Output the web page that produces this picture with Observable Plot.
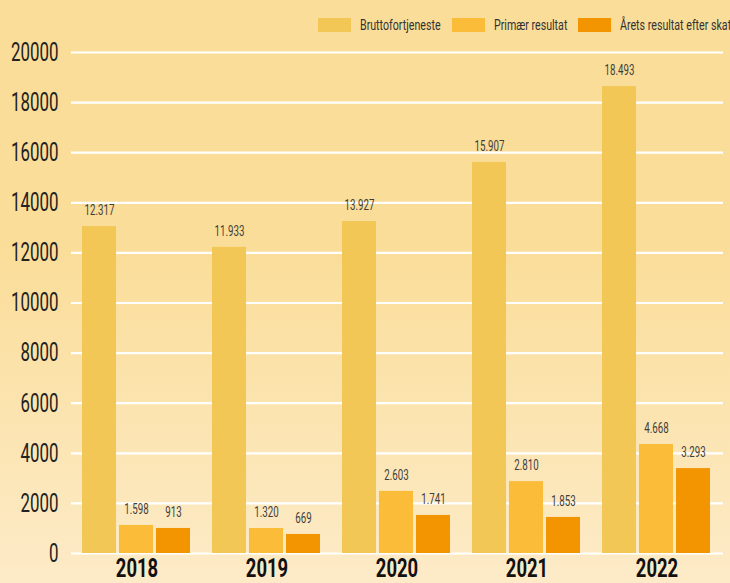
<!DOCTYPE html>
<html>
<head>
<meta charset="utf-8">
<script src="https://cdn.jsdelivr.net/npm/d3@7"></script>
<script src="https://cdn.jsdelivr.net/npm/@observablehq/plot@0.6"></script>
<style>
  html, body { margin: 0; padding: 0; }
  body { width: 730px; height: 583px; overflow: hidden;
    background: linear-gradient(to bottom, #FADD98 0%, #FADD98 42%, #FDEBC8 100%);
    font-family: Roboto, sans-serif; }
  #legend { position: relative; height: 40px; white-space: nowrap; }
  .item { position: absolute; top: 18px; height: 14px; }
  .sw { position: absolute; left: 0; top: 0; width: 33px; height: 14px; }
  .lt { position: absolute; left: 42px; top: -2px; font-size: 15px; line-height: 18px; color: #333;
        transform: scaleX(0.71); transform-origin: 0 0; }
  #chart { position: relative; width: 730px; height: 543px; }
  #chart svg { position: absolute; left: 0; top: 0; display: block; }
</style>
</head>
<body>
<div id="legend"></div>
<div id="chart"></div>
<script>
const years = ["2018", "2019", "2020", "2021", "2022"];
const series = ["Bruttofortjeneste", "Primær resultat", "Årets resultat efter skat"];
const colors = ["#F2C755", "#FBBC3A", "#F29500"];
// bar heights as drawn
const brutto = [13050, 12220, 13250, 15610, 18640];
const primaer = [1120, 1000, 2480, 2870, 4350];
const aarets = [1000, 760, 1520, 1440, 3390];
// printed value labels
const bruttoLabels = ["12.317", "11.933", "13.927", "15.907", "18.493"];
const primaerLabels = ["1.598", "1.320", "2.603", "2.810", "4.668"];
const aaretsLabels = ["913", "669", "1.741", "1.853", "3.293"];
const yTicks = [0, 2000, 4000, 6000, 8000, 10000, 12000, 14000, 16000, 18000, 20000];

const values = [brutto, primaer, aarets];
const labels = [bruttoLabels, primaerLabels, aaretsLabels];
const data = [];
years.forEach((y, i) => series.forEach((s, j) => data.push({year: y, series: s, value: values[j][i], label: labels[j][i]})));

// legend
const legendPos = [318, 452, 578];
const legend = document.getElementById("legend");
series.forEach((s, j) => {
  const it = document.createElement("div");
  it.className = "item";
  it.style.left = legendPos[j] + "px";
  it.innerHTML = `<span class="sw" style="background:${colors[j]}"></span><span class="lt">${s}</span>`;
  legend.appendChild(it);
});

const common = {
  width: 730, height: 543,
  marginTop: 12, marginBottom: 30, marginLeft: 71, marginRight: 7,
  style: {background: "transparent", fontFamily: "Roboto, sans-serif", overflow: "visible"},
  y: {domain: [0, 20000], axis: null}
};

// layer 1: gridlines and y axis
const grid = Plot.plot({
  ...common,
  marks: [
    Plot.ruleY(yTicks, {stroke: "#ffffff", strokeWidth: 2.2}),
    Plot.axisY(yTicks, {tickSize: 0, tickPadding: 13, fontSize: 26, fill: "#222", label: null, tickFormat: d => String(d)})
  ]
});

// layer 2: grouped bars, labels, year axis
const bars = Plot.plot({
  ...common,
  fx: {domain: years, paddingInner: 0.16, paddingOuter: 0.07, label: null},
  x: {domain: series, paddingInner: 0.08, paddingOuter: 0, axis: null},
  color: {domain: series, range: colors},
  marks: [
    Plot.barY(data, {fx: "year", x: "series", y: "value", fill: "series"}),
    Plot.text(data, {fx: "year", x: "series", y: "value", text: "label", dy: -16, fontSize: 15, fill: "#3d3d3d"}),
    Plot.axisFx({anchor: "bottom", tickSize: 0, tickPadding: 5, fontSize: 26, fontWeight: "bold", fill: "#111", label: null})
  ]
});
document.getElementById("chart").appendChild(grid);
document.getElementById("chart").appendChild(bars);

// narrow the type horizontally to mimic the condensed face of the original
function squeeze(sel, s) {
  sel.each(function() {
    const x = +(this.getAttribute("x") || 0);
    const t = this.getAttribute("transform") || "";
    this.setAttribute("transform", `${t} translate(${x},0) scale(${s},1) translate(${-x},0)`);
  });
}
squeeze(d3.select(grid).selectAll("text"), 0.65);
squeeze(d3.select(bars).selectAll('g[aria-label="text"] text'), 0.65);
squeeze(d3.select(bars).selectAll('g[aria-label="fx-axis tick label"] text'), 0.71);
</script>
</body>
</html>
